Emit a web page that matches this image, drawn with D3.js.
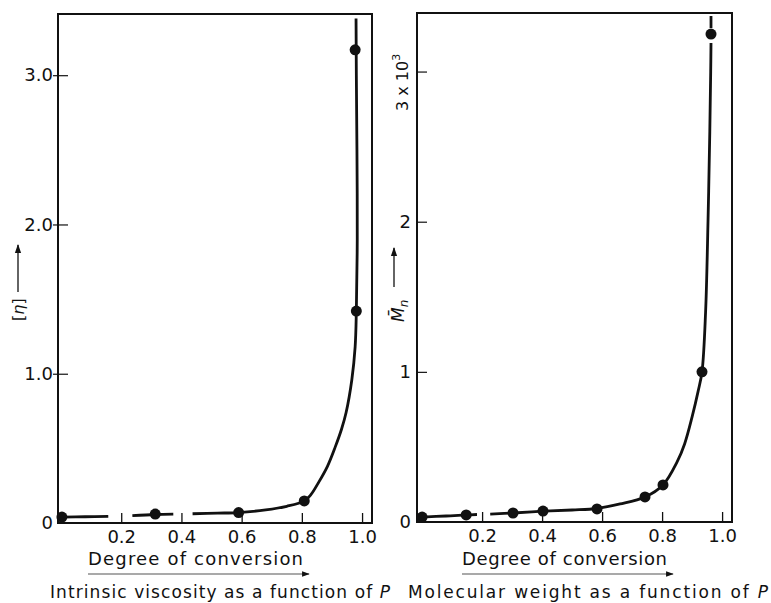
<!DOCTYPE html>
<html><head><meta charset="utf-8">
<script src="https://cdn.jsdelivr.net/npm/d3@7"></script>
<style>
body{margin:0;background:#fff;}
text{font-family:"DejaVu Sans",sans-serif;fill:#111;}
</style></head>
<body>
<svg id="c" width="771" height="603"></svg>
<script>
// ---- data ----
const xTicks = [0.2, 0.4, 0.6, 0.8, 1.0];
const xTickLabels = ["0.2", "0.4", "0.6", "0.8", "1.0"];

// Left panel: intrinsic viscosity [eta] vs P
const leftYTicks = [0, 1, 2, 3];
const leftYTickLabels = ["0", "1.0", "2.0", "3.0"];
const viscP   = [0.003, 0.313, 0.59, 0.808, 0.981, 0.977];
const viscEta = [0.04, 0.06, 0.07, 0.148, 1.42, 3.17];
// fitted curve, drawn in broken segments as in the original
const viscCurve = [
  [[0.003,0.04],[0.08,0.042],[0.157,0.045]],
  [[0.237,0.05],[0.313,0.057],[0.373,0.06]],
  [[0.437,0.062],[0.52,0.066],[0.59,0.07],[0.68,0.088],[0.75,0.112],[0.808,0.148],[0.83,0.19],
   [0.855,0.27],[0.885,0.38],[0.911,0.51],[0.932,0.63],[0.947,0.74],[0.966,0.96],[0.977,1.18],
   [0.981,1.42],[0.984,1.9],[0.983,2.5],[0.981,3.0],[0.98,3.38]]
];

// Right panel: number-average molecular weight (x 10^3) vs P
const rightYTicks = [0, 1, 2, 3];
const rightYTickLabels = ["0", "1", "2", ""];
const mwP  = [0.0, 0.147, 0.303, 0.403, 0.583, 0.743, 0.803, 0.933, 0.963];
const mwMn = [0.033, 0.047, 0.06, 0.073, 0.087, 0.167, 0.247, 1.0, 3.25];
const mwCurve = [
  [[0.0,0.033],[0.08,0.04],[0.147,0.047],[0.183,0.05]],
  [[0.227,0.053],[0.303,0.06],[0.403,0.072],[0.5,0.08],[0.583,0.09],[0.66,0.12],[0.743,0.167],
   [0.803,0.247],[0.85,0.4],[0.875,0.52],[0.9,0.7],[0.92,0.87],[0.933,1.0],[0.945,1.4],
   [0.953,2.0],[0.959,2.6],[0.962,3.0],[0.963,3.19]],
  [[0.963,3.29],[0.963,3.37]]
];

// ---- drawing ----
const svg = d3.select("#c");
const defs = svg.append("defs");
defs.append("marker").attr("id","ah").attr("viewBox","0 0 10 10")
  .attr("refX",9).attr("refY",5).attr("markerWidth",7).attr("markerHeight",7)
  .attr("orient","auto-start-reverse")
  .append("path").attr("d","M0,1.5 L10,5 L0,8.5 Z").attr("fill","#111");

function panel(o){
  const x = d3.scaleLinear().domain(o.xDom).range([o.left,o.right]);
  const y = d3.scaleLinear().domain(o.yDom).range([o.bottom,o.top]);
  const g = svg.append("g");
  // frame
  g.append("rect").attr("x",o.left).attr("y",o.top)
    .attr("width",o.right-o.left).attr("height",o.bottom-o.top)
    .attr("fill","none").attr("stroke","#111").attr("stroke-width",2);
  // x axis
  const xa = g.append("g").attr("transform",`translate(0,${o.bottom})`)
    .call(d3.axisBottom(x).tickValues(xTicks).tickFormat((d,i)=>xTickLabels[i])
      .tickSizeInner(-10).tickSizeOuter(0).tickPadding(7));
  xa.select(".domain").remove();
  xa.selectAll("line").attr("stroke","#111").attr("stroke-width",1.3);
  xa.selectAll("text").attr("font-size",18).attr("fill","#111")
    .attr("font-family","DejaVu Sans, sans-serif");
  // y axis
  const ya = g.append("g").attr("transform",`translate(${o.left},0)`)
    .call(d3.axisLeft(y).tickValues(o.yTicks).tickFormat((d,i)=>o.yLabels[i])
      .tickSizeInner(-10).tickSizeOuter(0).tickPadding(o.yPad));
  ya.select(".domain").remove();
  ya.selectAll("line").attr("stroke","#111").attr("stroke-width",1.2).attr("x1",o.yTickOut);
  ya.selectAll(".tick").filter(d=>d===0).select("line").remove();
  ya.selectAll("text").attr("font-size",18).attr("fill","#111")
    .attr("font-family","DejaVu Sans, sans-serif");
  // curve
  const line = d3.line().x(d=>x(d[0])).y(d=>y(d[1])).curve(d3.curveCatmullRom.alpha(0.5));
  g.selectAll("path.curve").data(o.curve).join("path").attr("class","curve")
    .attr("d",line).attr("fill","none").attr("stroke","#111").attr("stroke-width",2.8)
    .attr("stroke-linecap","butt");
  // points
  g.selectAll("circle.pt").data(o.px.map((v,i)=>[v,o.py[i]])).join("circle").attr("class","pt")
    .attr("cx",d=>x(d[0])).attr("cy",d=>y(d[1])).attr("r",5.5).attr("fill","#111");
  return {x,y,g};
}

panel({left:58,right:372,top:14,bottom:523,xDom:[-0.01,1.033],yDom:[0,3.41],
  yTicks:leftYTicks,yLabels:leftYTickLabels,yPad:5,yTickOut:-5,
  curve:viscCurve,px:viscP,py:viscEta});
panel({left:417,right:732,top:13,bottom:522,xDom:[-0.017,1.033],yDom:[0,3.39],
  yTicks:rightYTicks,yLabels:rightYTickLabels,yPad:6,yTickOut:0,
  curve:mwCurve,px:mwP,py:mwMn});

// y labels
const lt = svg.append("text").attr("transform","translate(24,321) rotate(-90)")
  .attr("font-size",16);
lt.append("tspan").text("[");
lt.append("tspan").attr("font-style","italic").text("η");
lt.append("tspan").text("]");
svg.append("line").attr("x1",18).attr("y1",292).attr("x2",18).attr("y2",245)
  .attr("stroke","#111").attr("stroke-width",1.3).attr("marker-end","url(#ah)");

const rt = svg.append("text").attr("transform","translate(404,322) rotate(-90)")
  .attr("font-size",17);
rt.append("tspan").attr("font-style","italic").text("M\u0304");
rt.append("tspan").attr("font-style","italic").attr("font-size",12).attr("dy",4).text("n");
svg.append("line").attr("x1",394).attr("y1",287).attr("x2",394).attr("y2",248)
  .attr("stroke","#111").attr("stroke-width",1.3).attr("marker-end","url(#ah)");

const t3 = svg.append("text").attr("transform","translate(408,111) rotate(-90)")
  .attr("font-size",16);
t3.append("tspan").text("3 x 10");
t3.append("tspan").attr("font-size",11).attr("dy",-8).text("3");

// bottom texts
function xTitle(x0,x1){
  svg.append("text").attr("x",x0).attr("y",565).attr("font-size",18)
    .attr("textLength",x1-x0).attr("lengthAdjust","spacing").text("Degree of conversion");
  svg.append("line").attr("x1",x0).attr("y1",574).attr("x2",x1+6).attr("y2",574)
    .attr("stroke","#555").attr("stroke-width",1.1).attr("marker-end","url(#ah)");
}
xTitle(88,303);
xTitle(462,667);

function caption(x0,x1,s){
  const t = svg.append("text").attr("x",x0).attr("y",598).attr("font-size",17)
    .attr("textLength",x1-x0).attr("lengthAdjust","spacing");
  t.append("tspan").text(s);
  t.append("tspan").attr("font-style","italic").text("P");
}
caption(50,390,"Intrinsic viscosity as a function of ");
caption(408,768,"Molecular weight as a function of ");
</script>
</body></html>
